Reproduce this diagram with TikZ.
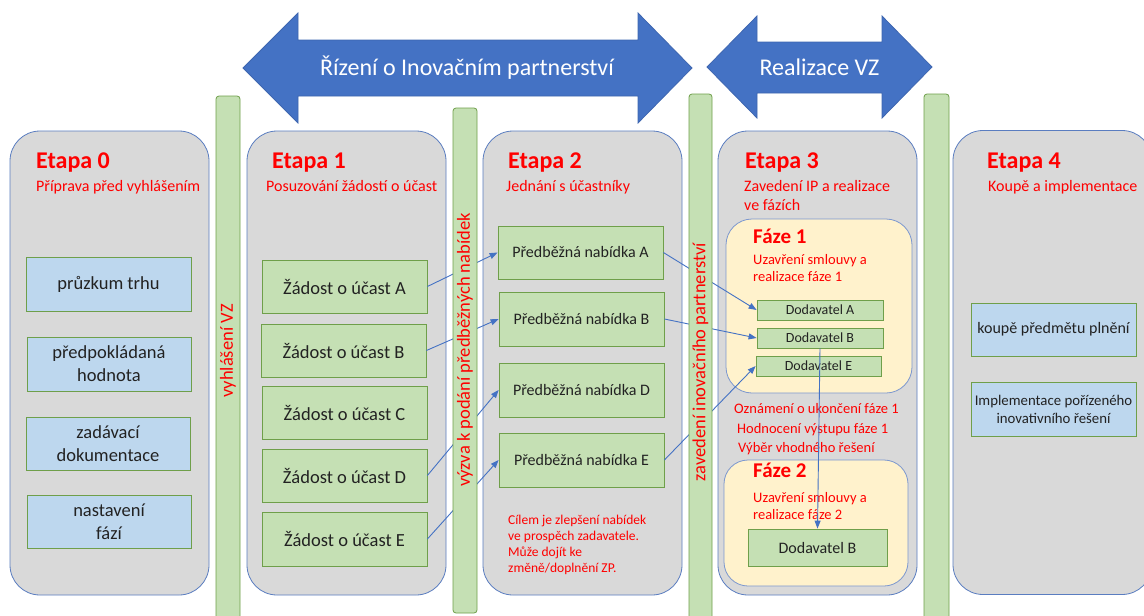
\documentclass[tikz,border=0pt]{standalone}
\usepackage{fontspec}
\setmainfont{Carlito}
\usetikzlibrary{arrows.meta}
\definecolor{grayfill}{HTML}{D9D9D9}
\definecolor{etapaborder}{HTML}{5A7DC0}
\definecolor{greenfill}{HTML}{C5E0B4}
\definecolor{boxgreen}{HTML}{6F9F4A}
\definecolor{bluefill}{HTML}{BDD7EE}
\definecolor{yellowfill}{HTML}{FFF2CC}
\definecolor{fazeborder}{HTML}{7B97CF}
\definecolor{arrowblue}{HTML}{4472C4}
\definecolor{arrowedge}{HTML}{3E66B0}
\definecolor{txt}{HTML}{222222}
\definecolor{redtxt}{HTML}{FF0000}
\tikzset{
  etapa/.style={draw=etapaborder, fill=grayfill, rounded corners=30pt, line width=0.8pt, inner sep=0pt},
  faze/.style={draw=fazeborder, fill=yellowfill, rounded corners=26pt, line width=0.8pt, inner sep=0pt},
  bar/.style={draw=boxgreen, fill=greenfill, rounded corners=3pt, line width=0.8pt, inner sep=0pt},
  bartext/.style={text=redtxt, rotate=90, font=\fontsize{18.5}{22}\selectfont, inner sep=0pt},
  bluebox/.style={draw=boxgreen, fill=bluefill, line width=0.8pt, align=center, text=txt, inner sep=0pt},
  greenbox/.style={draw=boxgreen, fill=greenfill, line width=0.8pt, align=center, text=txt, inner sep=0pt},
  etitle/.style={text=redtxt, font=\bfseries\fontsize{24}{28}\selectfont, anchor=base west, inner sep=0pt},
  ftitle/.style={text=redtxt, font=\bfseries\fontsize{21}{25}\selectfont, anchor=base west, inner sep=0pt},
  esub/.style={text=redtxt, font=\fontsize{16}{19}\selectfont, anchor=base west, inner sep=0pt},
  fsub/.style={text=redtxt, font=\fontsize{14.5}{17}\selectfont, anchor=base west, inner sep=0pt},
  note/.style={text=redtxt, font=\fontsize{13.5}{16}\selectfont, anchor=base west, inner sep=0pt},
  conn/.style={draw=arrowblue, line width=0.9pt, -{Triangle[length=8pt,width=6pt]}},
  plainconn/.style={draw=arrowblue, line width=0.9pt},
  bigarrow/.style={fill=arrowblue, draw=arrowedge, line width=0.8pt},
  arrowtext/.style={text=white, font=\fontsize{24}{28}\selectfont, inner sep=0pt},
  big/.style={font=\fontsize{18.5}{23}\selectfont},
  mid/.style={font=\fontsize{16}{19}\selectfont},
}
\begin{document}
\begin{tikzpicture}[x=1pt,y=-1pt]
\useasboundingbox (0,0) rectangle (1144,616);
\clip (0,0) rectangle (1144,616);
\fill[white] (0,0) rectangle (1144,616);

% big arrows
\draw[bigarrow] (243,68) -- (298,13) -- (298,40) -- (638,40) -- (638,13) -- (692,68)
  -- (638,123) -- (638,96) -- (298,96) -- (298,123) -- cycle;
\node[arrowtext] (rizeni) at (467,68) {Řízení o Inovačním partnerství};
\draw[bigarrow] (707,67) -- (757,16) -- (757,42) -- (882,42) -- (882,16) -- (932,67)
  -- (882,118) -- (882,93) -- (757,93) -- (757,118) -- cycle;
\node[arrowtext] (realizace) at (819.5,67) {Realizace VZ};

% etapa boxes
\node[etapa, minimum width=199pt, minimum height=464pt] (e0) at (109.5,363) {};
\node[etapa, minimum width=199pt, minimum height=464pt] (e1) at (346.5,363) {};
\node[etapa, minimum width=199pt, minimum height=464pt] (e2) at (582.5,363) {};
\node[etapa, minimum width=199pt, minimum height=464pt] (e3) at (817.5,363) {};
\node[etapa, minimum width=199pt, minimum height=464pt] (e4) at (1052.5,362.5) {};

% etapa titles
\node[etitle] (t0) at (36,168) {Etapa 0};
\node[esub] (s0) at (36,191) {Příprava před vyhlášením};
\node[etitle] (t1) at (272,168) {Etapa 1};
\node[esub] (s1) at (266,191) {Posuzování žádostí o účast};
\node[etitle] (t2) at (508,168) {Etapa 2};
\node[esub] (s2) at (506,191) {Jednání s účastníky};
\node[etitle] (t3) at (745,168) {Etapa 3};
\node[esub] (s3a) at (744,191) {Zavedení IP a realizace};
\node[esub] (s3b) at (744,210) {ve fázích};
\node[etitle] (t4) at (987,168) {Etapa 4};
\node[esub] (s4) at (988,191) {Koupě a implementace};

% etapa 0 boxes
\node[bluebox, big, minimum width=165pt, minimum height=54pt] (b1) at (108.5,284) {průzkum trhu};
\node[bluebox, big, minimum width=164pt, minimum height=54pt] (b2) at (109,364) {předpokládaná\\hodnota};
\node[bluebox, big, minimum width=164pt, minimum height=53pt] (b3) at (108,443.5) {zadávací\\dokumentace};
\node[bluebox, big, minimum width=164pt, minimum height=53pt] (b4) at (109,521.5) {nastavení\\fází};

% etapa 1 boxes
\node[greenbox, big, minimum width=165pt, minimum height=53pt] (zA) at (344.5,286.5) {Žádost o účast A};
\node[greenbox, big, minimum width=165pt, minimum height=53pt] (zB) at (343.5,350.5) {Žádost o účast B};
\node[greenbox, big, minimum width=165pt, minimum height=53pt] (zC) at (344.5,412.5) {Žádost o účast C};
\node[greenbox, big, minimum width=165pt, minimum height=53pt] (zD) at (344.5,475.5) {Žádost o účast D};
\node[greenbox, big, minimum width=165pt, minimum height=54pt] (zE) at (344.5,539) {Žádost o účast E};

% etapa 2 boxes
\node[greenbox, mid, minimum width=165pt, minimum height=53pt] (pA) at (580.5,252.5) {Předběžná nabídka A};
\node[greenbox, mid, minimum width=165pt, minimum height=54pt] (pB) at (581.5,319) {Předběžná nabídka B};
\node[greenbox, mid, minimum width=165pt, minimum height=54pt] (pD) at (581.5,390) {Předběžná nabídka D};
\node[greenbox, mid, minimum width=165pt, minimum height=54pt] (pE) at (581.5,460) {Předběžná nabídka E};
\node[note] (n1) at (508,524) {Cílem je zlepšení nabídek};
\node[note] (n2) at (508,540) {ve prospěch zadavatele.};
\node[note] (n3) at (508,556) {Může dojít ke};
\node[note] (n4) at (508,572) {změně/doplnění ZP.};

% etapa 3
\node[faze, minimum width=186pt, minimum height=174pt] (f1) at (819,306) {};
\node[ftitle] (f1t) at (753,243) {Fáze 1};
\node[fsub] (f1a) at (753,264) {Uzavření smlouvy a};
\node[fsub] (f1b) at (753,281) {realizace fáze 1};
\node[greenbox, font=\fontsize{14}{17}\selectfont, minimum width=126pt, minimum height=20pt] (dA) at (820,310) {Dodavatel A};
\node[greenbox, font=\fontsize{14}{17}\selectfont, minimum width=126pt, minimum height=20pt] (dB) at (820,338) {Dodavatel B};
\node[greenbox, font=\fontsize{14}{17}\selectfont, minimum width=125pt, minimum height=20pt] (dE) at (818.5,366) {Dodavatel E};
\node[fsub] (o1) at (734,413) {Oznámení o ukončení fáze 1};
\node[fsub] (o2) at (737,433) {Hodnocení výstupu fáze 1};
\node[fsub] (o3) at (738,452) {Výběr vhodného řešení};
\node[faze, rounded corners=24pt, minimum width=184pt, minimum height=126pt] (f2) at (816,523) {};
\node[ftitle] (f2t) at (753,477) {Fáze 2};
\node[fsub] (f2a) at (753,502) {Uzavření smlouvy a};
\node[fsub] (f2b) at (753,519) {realizace fáze 2};
\node[greenbox, mid, minimum width=139pt, minimum height=37pt] (d2) at (817.5,547.5) {Dodavatel B};

% etapa 4 boxes
\node[bluebox, mid, minimum width=165pt, minimum height=53pt] (k1) at (1053.5,329.5) {koupě předmětu plnění};
\node[bluebox, font=\fontsize{14.8}{18}\selectfont, minimum width=165pt, minimum height=54pt] (k2) at (1053.5,409) {Implementace pořízeného\\inovativního řešení};

% connectors
\draw[conn] (zA.east) -- (pA.west);
\draw[conn] (zB.east) -- (pB.west);
\draw[conn] (zD.east) -- (pD.west);
\draw[conn] (zE.east) -- (pE.west);
\draw[conn] (pA.east) -- (dA.west);
\draw[conn] (pB.east) -- (dB.west);
\draw[conn] (pE.east) -- (dE.west);
\draw[conn] (dB.south) -- (d2.north);

% green bars
\node[bar, minimum width=24pt, minimum height=560pt] (bar1) at (228,376) {};
\node[bar, minimum width=24pt, minimum height=505pt] (bar2) at (465,360.5) {};
\node[bar, minimum width=23pt, minimum height=560pt] (bar3) at (700.5,374) {};
\node[bar, minimum width=25pt, minimum height=560pt] (bar4) at (936.5,374) {};
\node[bartext] (bt1) at (228,351) {vyhlášení VZ};
\node[bartext] (bt2) at (465,350) {výzva k podání předběžných nabídek};
\node[bartext] (bt3) at (700.5,362) {zavedení inovačního partnerství};
\end{tikzpicture}
\end{document}
